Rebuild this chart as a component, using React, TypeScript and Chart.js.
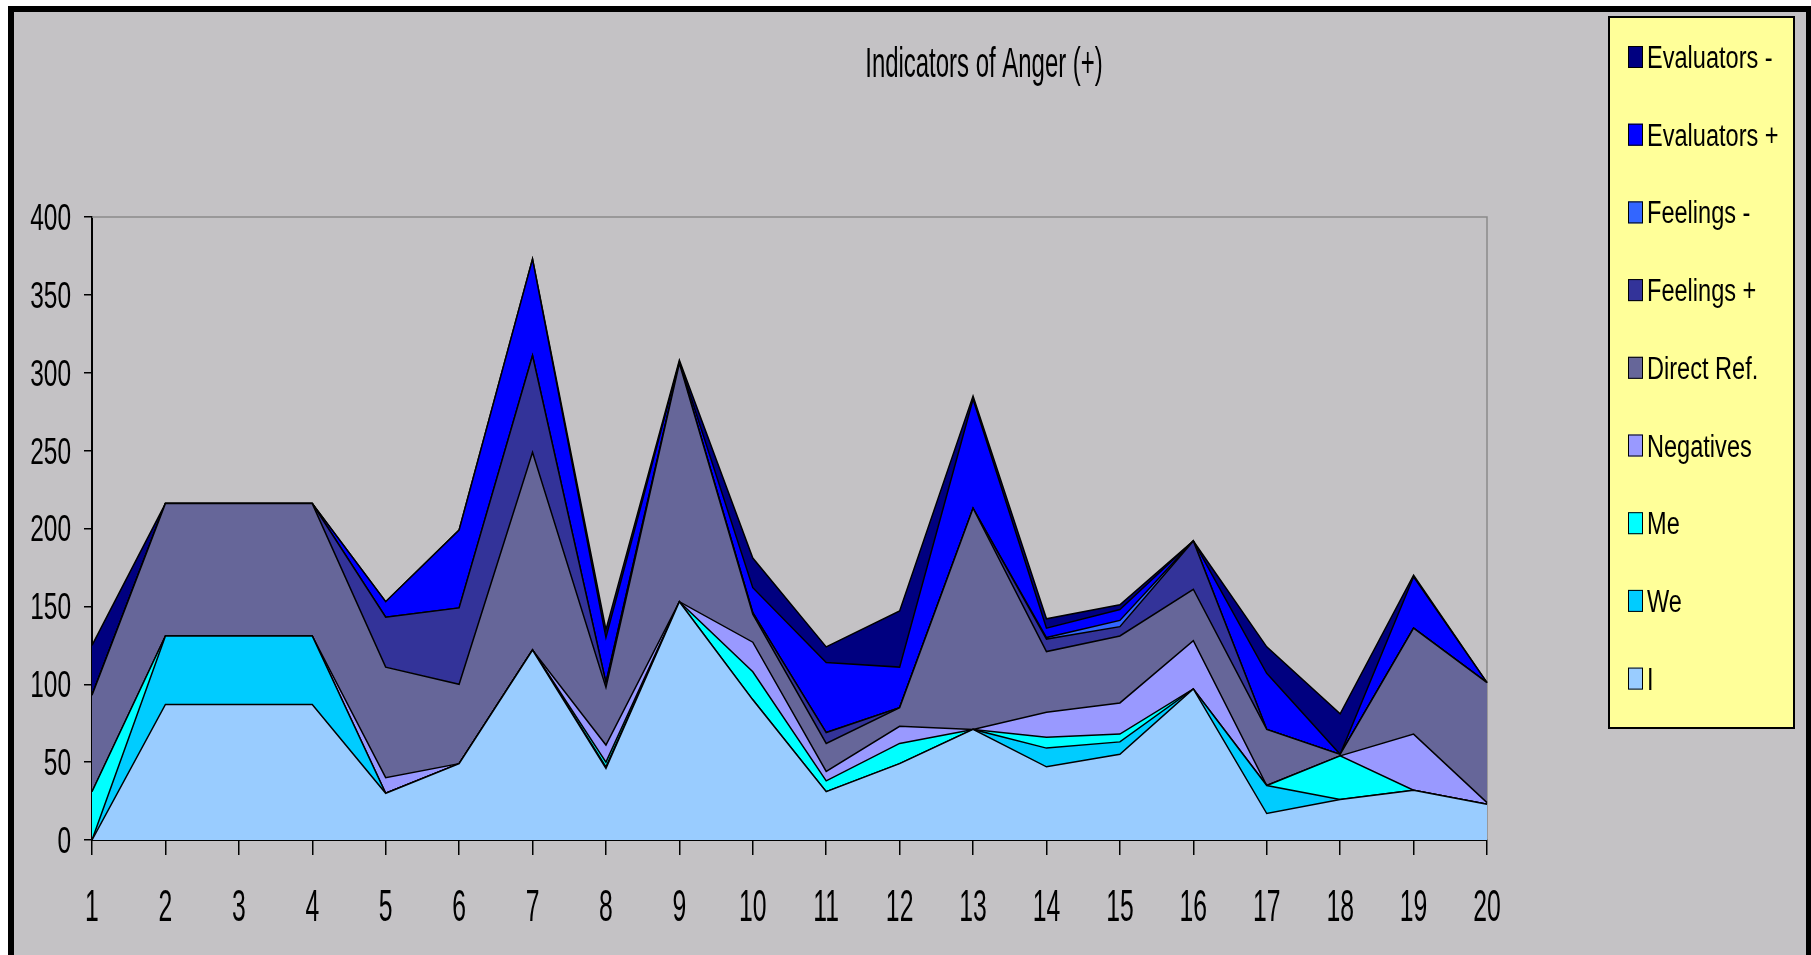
import React, { useEffect, useRef } from 'react';
import { Chart, registerables } from 'chart.js';

Chart.register(...registerables);

const W = 1811;
const H = 955;

const chartTitle = 'Indicators of Anger (+)';
const categories = ['1', '2', '3', '4', '5', '6', '7', '8', '9', '10', '11', '12', '13', '14', '15', '16', '17', '18', '19', '20'];
const yTicks = [0, 50, 100, 150, 200, 250, 300, 350, 400];

const valuesI = [0, 87, 87, 87, 30, 49, 122, 46, 153, 90, 31, 49, 71, 47, 55, 97, 17, 26, 32, 23];
const valuesWe = [0, 44, 44, 44, 0, 0, 0, 1, 0, 0, 0, 0, 0, 12, 8, 0, 18, 0, 0, 0];
const valuesMe = [31, 0, 0, 0, 0, 0, 0, 3, 0, 18, 7, 13, 0, 7, 5, 0, 0, 28, 0, 0];
const valuesNegatives = [0, 0, 0, 0, 10, 0, 0, 11, 0, 19, 6, 11, 0, 16, 20, 31, 0, 0, 36, 1];
const valuesDirectRef = [62, 85, 85, 85, 71, 51, 127, 37, 153, 18, 18, 12, 142, 39, 43, 33, 36, 1, 68, 77];
const valuesFeelingsPlus = [0, 0, 0, 0, 32, 49, 62, 3, 0, 1, 7, 0, 0, 8, 6, 31, 0, 0, 0, 0];
const valuesFeelingsMinus = [0, 0, 0, 0, 0, 0, 0, 0, 0, 0, 0, 0, 0, 1, 4, 0, 0, 0, 0, 0];
const valuesEvaluatorsPlus = [0, 0, 0, 0, 10, 50, 62, 29, 1, 16, 45, 26, 70, 6, 7, 0, 36, 0, 33, 0];
const valuesEvaluatorsMinus = [32, 0, 0, 0, 0, 0, 0, 5, 1, 19, 10, 36, 2, 6, 3, 0, 17, 26, 1, 0];

// bottom to top
const series = [
  { name: 'I', values: valuesI, color: '#99CCFF' },
  { name: 'We', values: valuesWe, color: '#00CCFF' },
  { name: 'Me', values: valuesMe, color: '#00FFFF' },
  { name: 'Negatives', values: valuesNegatives, color: '#9999FF' },
  { name: 'Direct Ref.', values: valuesDirectRef, color: '#666699' },
  { name: 'Feelings +', values: valuesFeelingsPlus, color: '#333399' },
  { name: 'Feelings -', values: valuesFeelingsMinus, color: '#3366FF' },
  { name: 'Evaluators +', values: valuesEvaluatorsPlus, color: '#0000FF' },
  { name: 'Evaluators -', values: valuesEvaluatorsMinus, color: '#000080' },
];

const BG = '#C4C2C5';
const FONT = '"Liberation Sans", Arial, sans-serif';

function drawText(
  ctx: CanvasRenderingContext2D,
  text: string,
  x: number,
  y: number,
  size: number,
  sx: number,
  align: CanvasTextAlign
) {
  ctx.save();
  ctx.font = `${size}px ${FONT}`;
  ctx.textAlign = align;
  ctx.textBaseline = 'alphabetic';
  ctx.fillStyle = '#000';
  ctx.translate(x, y);
  ctx.scale(sx, 1);
  ctx.fillText(text, 0, 0);
  ctx.restore();
}

const framePlugin = {
  id: 'frame',
  beforeDraw(chart: any) {
    const ctx = chart.ctx as CanvasRenderingContext2D;
    ctx.save();
    ctx.fillStyle = '#FFFFFF';
    ctx.fillRect(0, 0, W, H);
    ctx.fillStyle = '#000000';
    ctx.fillRect(8, 6, W - 8, H - 6);
    ctx.fillStyle = BG;
    ctx.fillRect(14, 12, W - 14 - 5, H - 12);
    ctx.restore();
  },
  beforeDatasetsDraw(chart: any) {
    const ctx = chart.ctx as CanvasRenderingContext2D;
    const a = chart.chartArea;
    ctx.save();
    ctx.strokeStyle = '#8A8A8A';
    ctx.lineWidth = 1.5;
    ctx.beginPath();
    ctx.moveTo(a.left, a.top);
    ctx.lineTo(a.right, a.top);
    ctx.lineTo(a.right, a.bottom);
    ctx.stroke();
    ctx.restore();
  },
};

const textPlugin = {
  id: 'texts',
  afterDraw(chart: any) {
    const ctx = chart.ctx as CanvasRenderingContext2D;
    const xs = chart.scales.x;
    const ys = chart.scales.y;

    // title
    drawText(ctx, chartTitle, 984, 77, 42, 0.57, 'center');

    // y tick labels
    const ySize = 36;
    yTicks.forEach((v) => {
      const py = ys.getPixelForValue(v);
      drawText(ctx, String(v), 71, py + ySize * 0.716 / 2, ySize, 0.68, 'right');
    });

    // x tick labels
    const xSize = 45;
    categories.forEach((c, i) => {
      const px = xs.getPixelForValue(i);
      drawText(ctx, c, px, 905 + xSize * 0.716 / 2, xSize, 0.55, 'center');
    });

    // legend
    const lx = 1609, ly = 17, lw = 185, lh = 711;
    ctx.save();
    ctx.fillStyle = '#FFFF99';
    ctx.fillRect(lx, ly, lw, lh);
    ctx.strokeStyle = '#000';
    ctx.lineWidth = 2;
    ctx.strokeRect(lx, ly, lw, lh);
    ctx.restore();
    const items = [...series].reverse();
    const lSize = 31;
    items.forEach((s, k) => {
      const cy = 57 + k * 77.7;
      ctx.save();
      ctx.fillStyle = s.color;
      ctx.fillRect(1628, cy - 11, 15, 22);
      ctx.strokeStyle = '#000';
      ctx.lineWidth = 1;
      ctx.strokeRect(1628.5, cy - 10.5, 14, 21);
      ctx.restore();
      drawText(ctx, s.name, 1647, cy + lSize * 0.716 / 2, lSize, 0.76, 'left');
    });
  },
};

export default function App() {
  const ref = useRef<HTMLCanvasElement>(null);

  useEffect(() => {
    const canvas = ref.current;
    if (!canvas) return;
    const chart = new Chart(canvas, {
      type: 'line',
      data: {
        labels: categories,
        datasets: series.map((s, i) => ({
          label: s.name,
          data: s.values,
          backgroundColor: s.color,
          borderColor: '#000000',
          borderWidth: 1.5,
          fill: i === 0 ? 'origin' : '-1',
          pointRadius: 0,
          pointHoverRadius: 0,
          tension: 0,
        })),
      },
      options: {
        responsive: false,
        animation: false,
        devicePixelRatio: 1,
        layout: { padding: { left: 84, top: 217, right: 324, bottom: 100 } },
        plugins: {
          legend: { display: false },
          title: { display: false },
          tooltip: { enabled: false },
          filler: { propagate: false },
        },
        scales: {
          x: {
            type: 'category',
            offset: false,
            ticks: { display: false },
            grid: {
              display: true,
              drawOnChartArea: false,
              drawTicks: true,
              tickLength: 15,
              color: '#000000',
              lineWidth: 1.5,
            },
            border: { display: true, color: '#000000', width: 2 },
          },
          y: {
            stacked: true,
            min: 0,
            max: 400,
            ticks: { display: false, stepSize: 50 },
            grid: {
              display: true,
              drawOnChartArea: false,
              drawTicks: true,
              tickLength: 8,
              color: '#000000',
              lineWidth: 1.5,
            },
            border: { display: true, color: '#000000', width: 2 },
          },
        },
      },
      plugins: [framePlugin, textPlugin],
    });
    return () => chart.destroy();
  }, []);

  return (
    <div style={{ position: 'fixed', left: 0, top: 0, width: W, height: H }}>
      <canvas ref={ref} width={W} height={H} style={{ width: W, height: H, display: 'block' }} />
    </div>
  );
}
